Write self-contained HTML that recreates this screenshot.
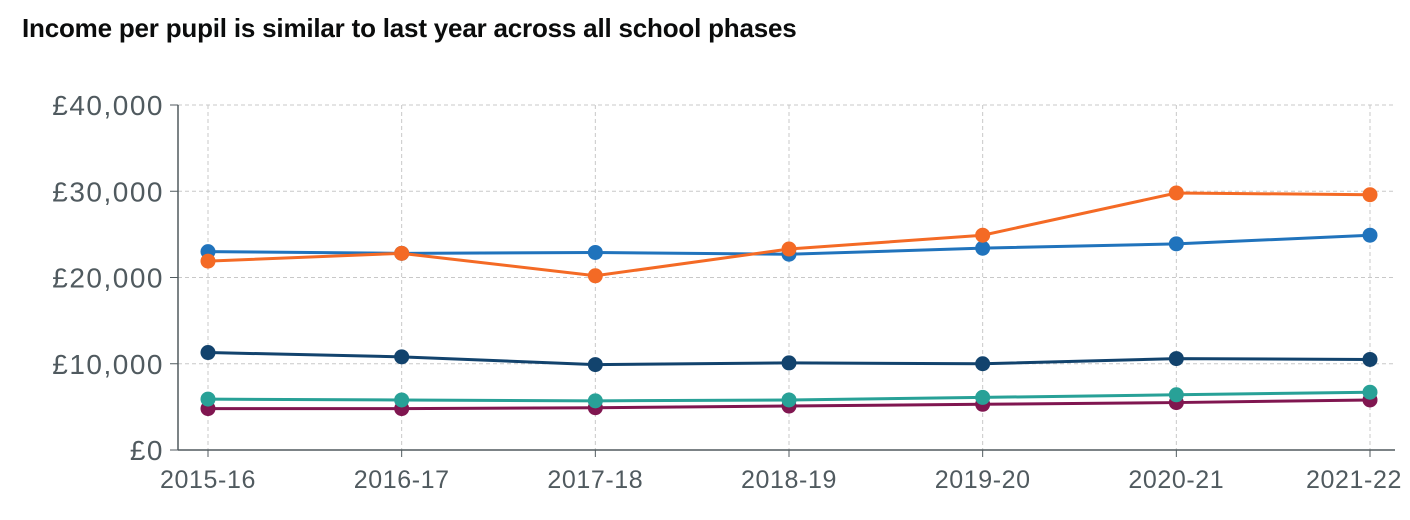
<!DOCTYPE html>
<html><head><meta charset="utf-8"><style>
html,body{margin:0;padding:0;background:#fff;width:1410px;height:520px;overflow:hidden}
h1{position:absolute;left:22px;top:13px;margin:0;font:bold 26px "Liberation Sans",sans-serif;color:#0b0c0c;letter-spacing:-0.2px}
svg{position:absolute;left:0;top:0}
text{font-family:"Liberation Sans",sans-serif;fill:#505a5f}
</style></head><body>
<h1>Income per pupil is similar to last year across all school phases</h1>
<svg id="chart" width="1410" height="520"></svg>
<script>
const categories=["2015-16","2016-17","2017-18","2018-19","2019-20","2020-21","2021-22"];
const yTicks=[0,10000,20000,30000,40000];
const yTickLabels=["£0","£10,000","£20,000","£30,000","£40,000"];
const orangeValues=[21900,22800,20200,23300,24900,29800,29600];
const blueValues=[23000,22800,22900,22700,23400,23900,24900];
const navyValues=[11300,10800,9900,10100,10000,10600,10500];
const tealValues=[5900,5800,5700,5800,6100,6400,6700];
const maroonValues=[4800,4800,4900,5100,5300,5500,5800];
const seriesList=[
 {name:"maroon",color:"#801650",v:maroonValues},
 {name:"teal",color:"#28a197",v:tealValues},
 {name:"navy",color:"#12436d",v:navyValues},
 {name:"blue",color:"#2073bc",v:blueValues},
 {name:"orange",color:"#f46a25",v:orangeValues}];
const svg=document.getElementById('chart');
const NS="http://www.w3.org/2000/svg";
const x0=208,x1=1370,yb=450,yt=105,yMax=40000;
const xs=i=>x0+(x1-x0)*i/(categories.length-1);
const ys=v=>yb-(yb-yt)*v/yMax;
function mk(t,a){const e=document.createElementNS(NS,t);for(const k in a)e.setAttribute(k,a[k]);svg.appendChild(e);return e;}
yTicks.forEach((t,i)=>{
 if(t>0){const g=mk('line',{x1:178,x2:1395,y1:ys(t),y2:ys(t),stroke:'#c8c8c8','stroke-dasharray':'4,3'});
 
 }
 const tk=mk('line',{x1:170,x2:178,y1:ys(t),y2:ys(t),stroke:'#505a5f'});
 
 
 const l=mk('text',{x:164,y:ys(t)+10,'text-anchor':'end','font-size':28,'letter-spacing':1.5});
 l.textContent=yTickLabels[i];
 
 
});
categories.forEach((c,i)=>{
 const g=mk('line',{x1:xs(i),x2:xs(i),y1:yt,y2:yb,stroke:'#c8c8c8','stroke-dasharray':'4,3'});
 
 
 const tk=mk('line',{x1:xs(i),x2:xs(i),y1:yb,y2:yb+7,stroke:'#505a5f'});
 
 
 const anchor=i==categories.length-1?'end':'middle';
 const l=mk('text',{x:i==categories.length-1?1402:xs(i),y:yb+38,'text-anchor':anchor,'font-size':25,'letter-spacing':0.6});
 l.textContent=c;
 
 
});
const ya=mk('line',{x1:178,x2:178,y1:yt,y2:yb,stroke:'#505a5f','stroke-width':1.5});


const xa=mk('line',{x1:178,x2:1395,y1:yb,y2:yb,stroke:'#505a5f','stroke-width':1.5});


seriesList.forEach(s=>{
 const p=mk('polyline',{points:s.v.map((v,i)=>xs(i)+','+ys(v)).join(' '),fill:'none',stroke:s.color,'stroke-width':3});
 
 
 s.v.forEach((v,i)=>{
  const c=mk('circle',{cx:xs(i),cy:ys(v),r:7.5,fill:s.color});
  
  
 });
});
</script>
</body></html>
